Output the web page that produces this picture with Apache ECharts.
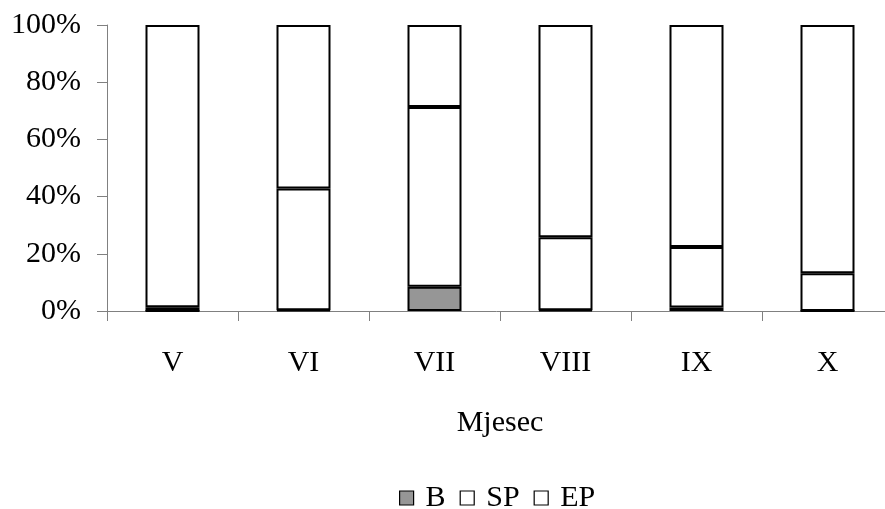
<!DOCTYPE html>
<html>
<head>
<meta charset="utf-8">
<script src="https://cdn.jsdelivr.net/npm/echarts@6/dist/echarts.min.js"></script>
<style>html,body{margin:0;padding:0;background:#fff}#c{width:885px;height:509px}</style>
</head>
<body>
<div id="c"></div>
<script>
const categories = ['V', 'VI', 'VII', 'VIII', 'IX', 'X'];
const seriesNames = ['B', 'SP', 'EP'];
const valuesB  = [0.0, 0.3, 8.5, 0.3, 1.2, 0.0];
const valuesSP = [1.3, 42.5, 62.8, 25.5, 21.2, 13.2];
const valuesEP = [98.7, 57.2, 28.7, 74.2, 77.6, 86.8];
const yTicks = [0, 20, 40, 60, 80, 100];

const fills = ['#969696', '#ffffff', '#ffffff'];
const font = '"Liberation Serif", "Times New Roman", serif';
const chart = echarts.init(document.getElementById('c'));
const dataSets = [valuesB, valuesSP, valuesEP];

chart.setOption({
  animation: false,
  backgroundColor: '#ffffff',
  grid: { left: 107, right: -8, top: 25, bottom: 198, containLabel: false, outerBoundsMode: 'none' },
  legend: {
    top: 483,
    left: 399,
    padding: 0,
    itemWidth: 14,
    itemHeight: 14,
    itemGap: 14,
    icon: 'rect',
    itemStyle: { borderColor: '#000', borderWidth: 1.2 },
    textStyle: { fontFamily: font, fontSize: 30, color: '#000', padding: [0, 0, 0, 7] },
    data: seriesNames
  },
  xAxis: {
    type: 'category',
    data: categories,
    name: 'Mjesec',
    nameLocation: 'middle',
    nameGap: 97,
    nameTextStyle: { fontFamily: font, fontSize: 30, color: '#000' },
    axisLine: { lineStyle: { color: '#808080', width: 1 } },
    axisTick: { show: true, length: 10, lineStyle: { color: '#808080' } },
    axisLabel: { fontFamily: font, fontSize: 30, color: '#000', margin: 37 }
  },
  yAxis: {
    type: 'value',
    min: yTicks[0],
    max: yTicks[yTicks.length - 1],
    interval: yTicks[1] - yTicks[0],
    axisLine: { show: true, lineStyle: { color: '#808080', width: 1 } },
    axisTick: { show: true, length: 10, lineStyle: { color: '#808080' } },
    splitLine: { show: false },
    axisLabel: { fontFamily: font, fontSize: 30, color: '#000', margin: 26, formatter: '{value}%' }
  },
  series: seriesNames.map((n, i) => ({
    name: n,
    type: 'bar',
    stack: 'total',
    barWidth: 54,
    data: dataSets[i],
    itemStyle: { color: fills[i], borderColor: '#000', borderWidth: 2 }
  }))
});
</script>
</body>
</html>
